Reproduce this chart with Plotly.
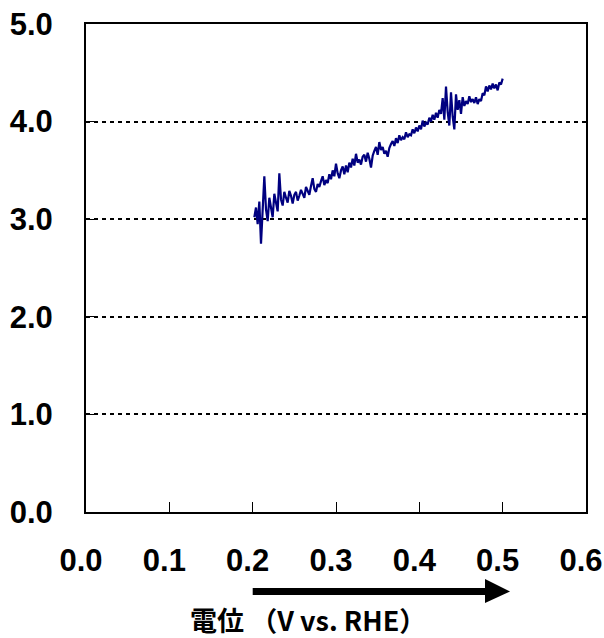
import plotly.graph_objects as go

# Potential sweep (V vs. RHE) and measured response
potential = [
    0.202, 0.204, 0.206, 0.208, 0.210, 0.212, 0.214, 0.216, 0.218, 0.220,
    0.222, 0.224, 0.226, 0.228, 0.230, 0.232, 0.234, 0.236, 0.238, 0.240,
    0.242, 0.244, 0.246, 0.248, 0.250, 0.252, 0.254, 0.256, 0.258, 0.260,
    0.262, 0.264, 0.266, 0.268, 0.270, 0.272, 0.274, 0.276, 0.278, 0.280,
    0.282, 0.284, 0.286, 0.288, 0.290, 0.292, 0.294, 0.296, 0.298, 0.300,
    0.302, 0.304, 0.306, 0.308, 0.310, 0.312, 0.314, 0.316, 0.318, 0.320,
    0.322, 0.324, 0.326, 0.328, 0.330, 0.332, 0.334, 0.336, 0.338, 0.340,
    0.342, 0.344, 0.346, 0.348, 0.350, 0.352, 0.354, 0.356, 0.358, 0.360,
    0.362, 0.364, 0.366, 0.368, 0.370, 0.372, 0.374, 0.376, 0.378, 0.380,
    0.382, 0.384, 0.386, 0.388, 0.390, 0.392, 0.394, 0.396, 0.398, 0.400,
    0.402, 0.404, 0.406, 0.408, 0.410, 0.412, 0.414, 0.416, 0.418, 0.420,
    0.422, 0.424, 0.426, 0.428, 0.430, 0.432, 0.434, 0.436, 0.438, 0.440,
    0.442, 0.444, 0.446, 0.448, 0.450, 0.452, 0.454, 0.456, 0.458, 0.460,
    0.462, 0.464, 0.466, 0.468, 0.470, 0.472, 0.474, 0.476, 0.478, 0.480,
    0.482, 0.484, 0.486, 0.488, 0.490, 0.492, 0.494, 0.496, 0.498, 0.500,
]
response = [
    3.02, 3.12, 2.95, 3.18, 2.75, 3.05, 3.44, 3.10, 2.98, 3.22,
    3.12, 3.02, 3.26, 3.18, 3.08, 3.47, 3.20, 3.14, 3.28, 3.22,
    3.17, 3.29, 3.24, 3.16, 3.25, 3.28, 3.19, 3.24, 3.30, 3.26,
    3.22, 3.33, 3.29, 3.25, 3.34, 3.42, 3.31, 3.28, 3.36, 3.33,
    3.39, 3.44, 3.35, 3.40, 3.37, 3.46, 3.41, 3.50, 3.44, 3.57,
    3.47, 3.42, 3.50, 3.54, 3.46, 3.55, 3.48, 3.58, 3.53, 3.62,
    3.55, 3.67, 3.58, 3.61, 3.56, 3.64, 3.66, 3.59, 3.68, 3.62,
    3.53, 3.65, 3.70, 3.74, 3.66, 3.79, 3.71, 3.74, 3.67, 3.70,
    3.64, 3.73, 3.77, 3.80, 3.75, 3.83, 3.78, 3.86, 3.81, 3.84,
    3.82, 3.89, 3.84, 3.87, 3.86, 3.92, 3.88, 3.94, 3.90, 3.96,
    3.92, 4.01, 3.95, 3.99, 3.97, 4.04, 4.00, 4.07, 4.02, 4.09,
    4.04, 4.12, 4.08, 4.24, 4.02, 4.36, 4.10, 3.96, 4.30, 4.05,
    3.92, 4.28, 4.12, 4.22, 4.08, 4.25, 4.16, 4.21, 4.18, 4.26,
    4.20, 4.23, 4.19, 4.25, 4.18, 4.23, 4.21, 4.29, 4.27, 4.36,
    4.31, 4.37, 4.33, 4.39, 4.34, 4.38, 4.32, 4.40, 4.38, 4.44,
]

x_ticks = [0.0, 0.1, 0.2, 0.3, 0.4, 0.5, 0.6]
x_labels = ["0.0", "0.1", "0.2", "0.3", "0.4", "0.5", "0.6"]
y_ticks = [0, 1, 2, 3, 4, 5]
y_labels = ["0.0", "1.0", "2.0", "3.0", "4.0", "5.0"]
x_title = "電位 （V vs. RHE）"

tick_font = dict(family="Liberation Sans, Arial, sans-serif", size=31,
                 color="black", weight="bold")

fig = go.Figure()
fig.add_trace(go.Scatter(
    x=potential, y=response, mode="lines",
    line=dict(color="#000080", width=2.2),
    showlegend=False,
))

fig.update_xaxes(
    range=[0, 0.6], tickvals=x_ticks, ticktext=x_labels,
    showgrid=False, zeroline=False, automargin=False,
    showline=True, linecolor="black", linewidth=2, mirror=True,
    ticks="inside", ticklen=10, tickwidth=1, tickcolor="black",
    tickfont=tick_font, ticklabelstandoff=20, ticklabelshift=-5,
)
fig.update_yaxes(
    range=[0, 5], tickvals=y_ticks, ticktext=y_labels,
    showgrid=True, gridcolor="black", gridwidth=2, griddash="4px,4px",
    zeroline=False, automargin=False,
    showline=True, linecolor="black", linewidth=2, mirror=True,
    ticks="inside", ticklen=10, tickwidth=1, tickcolor="black",
    tickfont=tick_font, ticklabelstandoff=25,
)

# Sweep-direction arrow below the x axis
fig.add_shape(type="line", xref="paper", yref="paper",
              x0=0.3334, x1=0.80, y0=-0.163, y1=-0.163,
              line=dict(color="black", width=7))
fig.add_shape(type="path", xref="paper", yref="paper",
              path="M 0.798 -0.1373 L 0.848 -0.163 L 0.798 -0.1865 Z",
              fillcolor="black", line=dict(color="black", width=0))

fig.add_annotation(
    text=x_title, xref="paper", yref="paper",
    x=0.444, y=-0.2193, xanchor="center", yanchor="middle", showarrow=False,
    borderpad=0,
    font=dict(family="Noto Sans CJK JP", size=27, color="black", weight="bold"),
)

fig.update_layout(
    width=604, height=638,
    margin=dict(l=86, r=18, t=24, b=126),
    paper_bgcolor="white", plot_bgcolor="white",
)

fig.write_html("out.html")
